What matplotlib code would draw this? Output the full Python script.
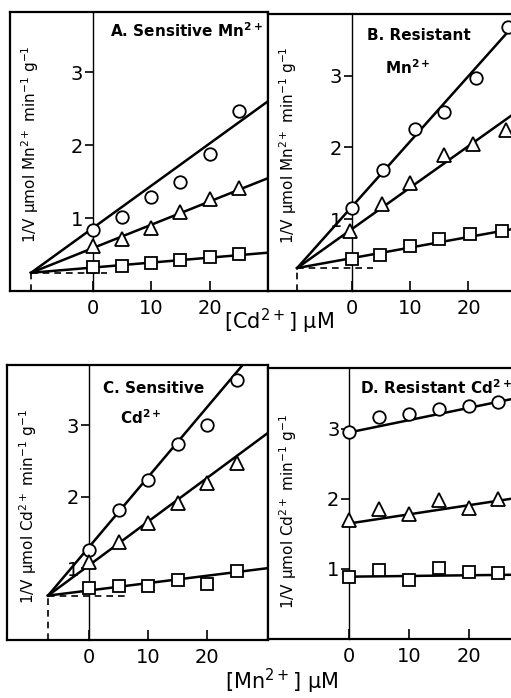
import numpy as np
import matplotlib.pyplot as plt

plt.rcParams['font.family'] = ['DejaVu Sans']
plt.rcParams['mathtext.default'] = 'regular'

# concentrations of inhibitor (uM)
conc = [0, 5, 10, 15, 20, 25]
conc_b_circ = [0, 5.4, 10.9, 15.8, 21.3, 26.7]
conc_b_tri = [-0.3, 5.1, 10.0, 15.8, 20.7, 26.4]
conc_b_sq = [0, 4.9, 10.0, 14.9, 20.3, 25.7]

# A. Sensitive Mn2+
a_circ = [0.84, 1.02, 1.29, 1.50, 1.88, 2.47]
a_tri = [0.62, 0.72, 0.86, 1.08, 1.26, 1.41]
a_sq = [0.33, 0.35, 0.38, 0.42, 0.46, 0.51]
a_cross = (-10.6, 0.25)
a_slopes = [0.058, 0.032, 0.0068]

# B. Resistant Mn2+
b_circ = [1.16, 1.68, 2.26, 2.50, 2.97, 3.68]
b_tri = [0.84, 1.21, 1.50, 1.90, 2.05, 2.25]
b_sq = [0.44, 0.50, 0.63, 0.72, 0.79, 0.84]
b_cross = (-9.4, 0.32)
b_slopes = [0.091, 0.0578, 0.0147]

# C. Sensitive Cd2+
c_circ = [1.26, 1.82, 2.24, 2.73, 3.00, 3.63]
c_tri = [1.09, 1.37, 1.64, 1.91, 2.19, 2.47]
c_sq = [0.73, 0.75, 0.76, 0.84, 0.78, 0.97]
c_cross = (-6.95, 0.62)
c_slopes = [0.0977, 0.061, 0.0103]

# D. Resistant Cd2+ (parallel-ish lines starting at 0)
d_circ = [2.95, 3.17, 3.22, 3.29, 3.33, 3.38]
d_tri = [1.70, 1.85, 1.79, 1.98, 1.87, 2.00]
d_sq = [0.89, 0.99, 0.84, 1.01, 0.96, 0.94]
d_icpt = [2.95, 1.65, 0.89]
d_slopes = [0.0175, 0.013, 0.001]

mn_label = r'1/V $\mu$mol Mn$^{2+}$ min$^{-1}$ g$^{-1}$'
cd_label = r'1/V $\mu$mol Cd$^{2+}$ min$^{-1}$ g$^{-1}$'

markers = ['o', '^', 's']
msizes = [9, 9.5, 8]

fig = plt.figure(figsize=(5.11, 6.98), dpi=100)


def setup(ax, xlim, ylim, right=True):
    ax.set_xlim(*xlim)
    ax.set_ylim(*ylim)
    ax.spines['left'].set_position(('data', 0))
    ax.spines['left'].set_linewidth(1.0)
    for s in ['top', 'bottom', 'right']:
        ax.spines[s].set_linewidth(1.6)
    ax.spines['right'].set_visible(right)
    # outer box edge on the left
    ax.plot([0, 0], [0, 1], transform=ax.transAxes, color='k', lw=1.6, clip_on=False)
    ax.set_xticks([0, 10, 20])
    ax.set_yticks([1, 2, 3])
    ax.tick_params(axis='x', direction='in', length=7, width=1.2, pad=6, labelsize=14)
    ax.tick_params(axis='y', direction='out', length=6, width=1.2, pad=1, labelsize=14)


def draw_series(ax, xs, ys, k):
    ax.plot(xs, ys, linestyle='none', marker=markers[k], ms=msizes[k],
            mfc='white', mec='black', mew=1.3, zorder=4, clip_on=False)


def draw_fan(ax, cross, slopes, xmax):
    x0, y0 = cross
    for sl in slopes:
        xx = np.array([x0, xmax])
        ax.plot(xx, y0 + sl * (xx - x0), color='black', lw=1.8, zorder=3)
    ax.plot([x0, x0 + 13], [y0, y0], color='black', lw=1.2, ls=(0, (4, 3)), zorder=2)
    ax.plot([x0, x0], [0, y0], color='black', lw=1.2, ls=(0, (4, 3)), zorder=2)


# panel A
axA = fig.add_axes([10/511, 1-291/698, 258/511, 279/698])
setup(axA, (-14.2, 30), (0, 3.83))
draw_fan(axA, a_cross, a_slopes, 30)
for k, ys in enumerate([a_circ, a_tri, a_sq]):
    draw_series(axA, conc, ys, k)
axA.text(0.388, 0.932, r'A. Sensitive Mn$^{2+}$', transform=axA.transAxes,
         fontsize=11, fontweight='bold', va='center')
axA.text(0.078, 0.527, mn_label, rotation=90, transform=axA.transAxes,
         ha='center', va='center', fontsize=11)

# panel B
axB = fig.add_axes([268/511, 1-291/698, 243/511, 277/698])
setup(axB, (-14.4, 27.3), (0, 3.86), right=False)
draw_fan(axB, b_cross, b_slopes, 27.3)
for k, (xs, ys) in enumerate([(conc_b_circ, b_circ), (conc_b_tri, b_tri), (conc_b_sq, b_sq)]):
    draw_series(axB, xs, ys, k)
axB.text(0.406, 0.924, 'B. Resistant', transform=axB.transAxes,
         fontsize=11, fontweight='bold', va='center')
axB.text(0.48, 0.805, r'Mn$^{2+}$', transform=axB.transAxes,
         fontsize=11, fontweight='bold', va='center')
axB.text(0.082, 0.527, mn_label, rotation=90, transform=axB.transAxes,
         ha='center', va='center', fontsize=11)

# panel C
axC = fig.add_axes([7/511, 1-640/698, 261/511, 275/698])
setup(axC, (-13.9, 30.3), (0, 3.84))
draw_fan(axC, c_cross, c_slopes, 30.3)
for k, ys in enumerate([c_circ, c_tri, c_sq]):
    draw_series(axC, conc, ys, k)
axC.text(0.368, 0.916, 'C. Sensitive', transform=axC.transAxes,
         fontsize=11, fontweight='bold', va='center')
axC.text(0.433, 0.807, r'Cd$^{2+}$', transform=axC.transAxes,
         fontsize=11, fontweight='bold', va='center')
axC.text(0.08, 0.485, cd_label, rotation=90, transform=axC.transAxes,
         ha='center', va='center', fontsize=11)

# panel D
axD = fig.add_axes([268/511, 1-639/698, 243/511, 271/698])
setup(axD, (-13.6, 27.1), (0, 3.87), right=False)
for k, ys in enumerate([d_circ, d_tri, d_sq]):
    xx = np.array([0, 27.1])
    axD.plot(xx, d_icpt[k] + d_slopes[k] * xx, color='black', lw=1.8, zorder=3)
    draw_series(axD, conc, ys, k)
axD.text(0.379, 0.926, r'D. Resistant Cd$^{2+}$', transform=axD.transAxes,
         fontsize=11, fontweight='bold', va='center')
axD.text(0.082, 0.47, cd_label, rotation=90, transform=axD.transAxes,
         ha='center', va='center', fontsize=11)

fig.text(0.546, 0.54, r'[Cd$^{2+}$] $\mu$M', ha='center', va='center', fontsize=15)
fig.text(0.552, 0.024, r'[Mn$^{2+}$] $\mu$M', ha='center', va='center', fontsize=15)

fig.savefig('out.png', dpi=100)
